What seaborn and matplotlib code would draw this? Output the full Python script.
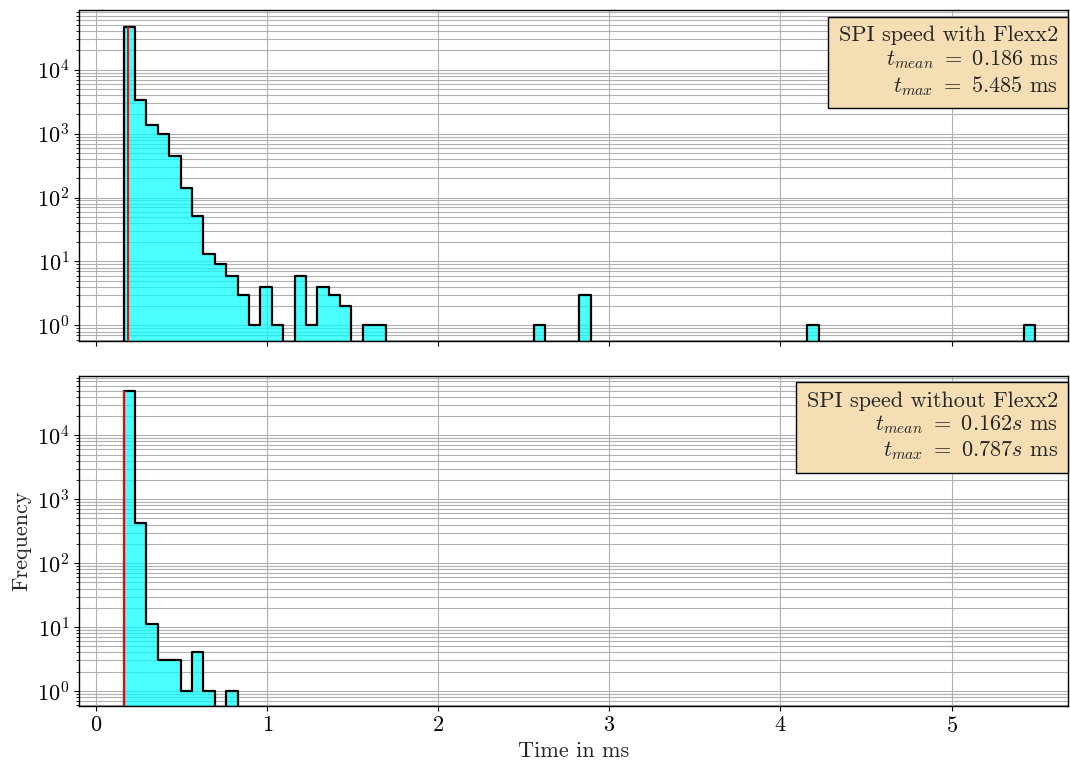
import numpy as np
import pandas as pd
import matplotlib
matplotlib.use("Agg")
import matplotlib.pyplot as plt
import seaborn as sns

# ---- data ----
bin_start = 0.160
bin_width = 0.0666
n_bins_top = 80
n_bins_bottom = 10

counts_with = [46000, 3300, 1380, 990, 450, 142, 52, 13, 9, 6,
               3, 1, 4, 1, 0, 6, 1, 4, 3, 2,
               0, 1, 1, 0, 0, 0, 0, 0, 0, 0,
               0, 0, 0, 0, 0, 0, 1, 0, 0, 0,
               3, 0, 0, 0, 0, 0, 0, 0, 0, 0,
               0, 0, 0, 0, 0, 0, 0, 0, 0, 0,
               1, 0, 0, 0, 0, 0, 0, 0, 0, 0,
               0, 0, 0, 0, 0, 0, 0, 0, 0, 1]
counts_without = [50000, 420, 11, 3, 3, 1, 4, 1, 0, 1]

mean_with = 0.186
mean_without = 0.162
label_with = ("SPI speed with Flexx2\n$t_{mean}\\ =\\ 0.186$ ms\n"
              "$t_{max}\\ =\\ 5.485$ ms")
label_without = ("SPI speed without Flexx2\n$t_{mean}\\ =\\ 0.162s$ ms\n"
                 "$t_{max}\\ =\\ 0.787s$ ms")
x_ticks = [0, 1, 2, 3, 4, 5]

# ---- style ----
sns.set_style("ticks")
plt.rcParams.update({
    "font.family": ["cmr10", "DejaVu Serif"],
    "mathtext.fontset": "cm",
    "axes.formatter.use_mathtext": True,
    "font.size": 16,
    "axes.unicode_minus": False,
    "axes.edgecolor": "black",
    "axes.linewidth": 1.0,
    "xtick.color": "black",
    "ytick.color": "black",
    "xtick.direction": "out",
    "ytick.direction": "out",
})

fig, axes = plt.subplots(2, 1, figsize=(10.7, 7.65), dpi=100, sharex=True)
fig.subplots_adjust(left=0.074, right=0.998, top=0.987, bottom=0.077, hspace=0.106)

panels = [
    (axes[0], counts_with, n_bins_top, mean_with, label_with),
    (axes[1], counts_without, n_bins_bottom, mean_without, label_without),
]

for ax, counts, nb, mean, label in panels:
    edges = bin_start + bin_width * np.arange(nb + 1)
    centers = 0.5 * (edges[:-1] + edges[1:])
    df = pd.DataFrame({"t": centers, "n": np.asarray(counts, float)})
    ax.set_yscale("log")
    sns.histplot(data=df, x="t", weights="n", bins=list(edges),
                 element="step", fill=True, color="cyan", alpha=0.7,
                 edgecolor="black", linewidth=1.6, ax=ax)
    ax.vlines(mean, 1e-3, max(counts), color="red", linewidth=1.4, zorder=5)
    ax.set_ylim(0.58, 86000)
    ax.set_xlim(-0.1, 5.68)
    ax.set_xticks(x_ticks)
    ax.set_axisbelow(True)
    ax.grid(True, which="both", color="#b0b0b0", linewidth=0.8)
    ax.grid(False, which="minor", axis="x")
    for s in ax.spines.values():
        s.set_visible(True)
        s.set_color("black")
    ax.set_ylabel("")
    ax.set_xlabel("")
    ax.text(0.99, 0.953, label, transform=ax.transAxes, ha="right", va="top",
            multialignment="right", fontsize=16, linespacing=1.18,
            bbox=dict(boxstyle="square,pad=0.47", facecolor="wheat",
                      edgecolor="black", linewidth=1.0))

axes[1].set_ylabel("Frequency", fontsize=16)
axes[1].set_xlabel("Time in ms", fontsize=16)

fig.savefig("out.png", dpi=100)
